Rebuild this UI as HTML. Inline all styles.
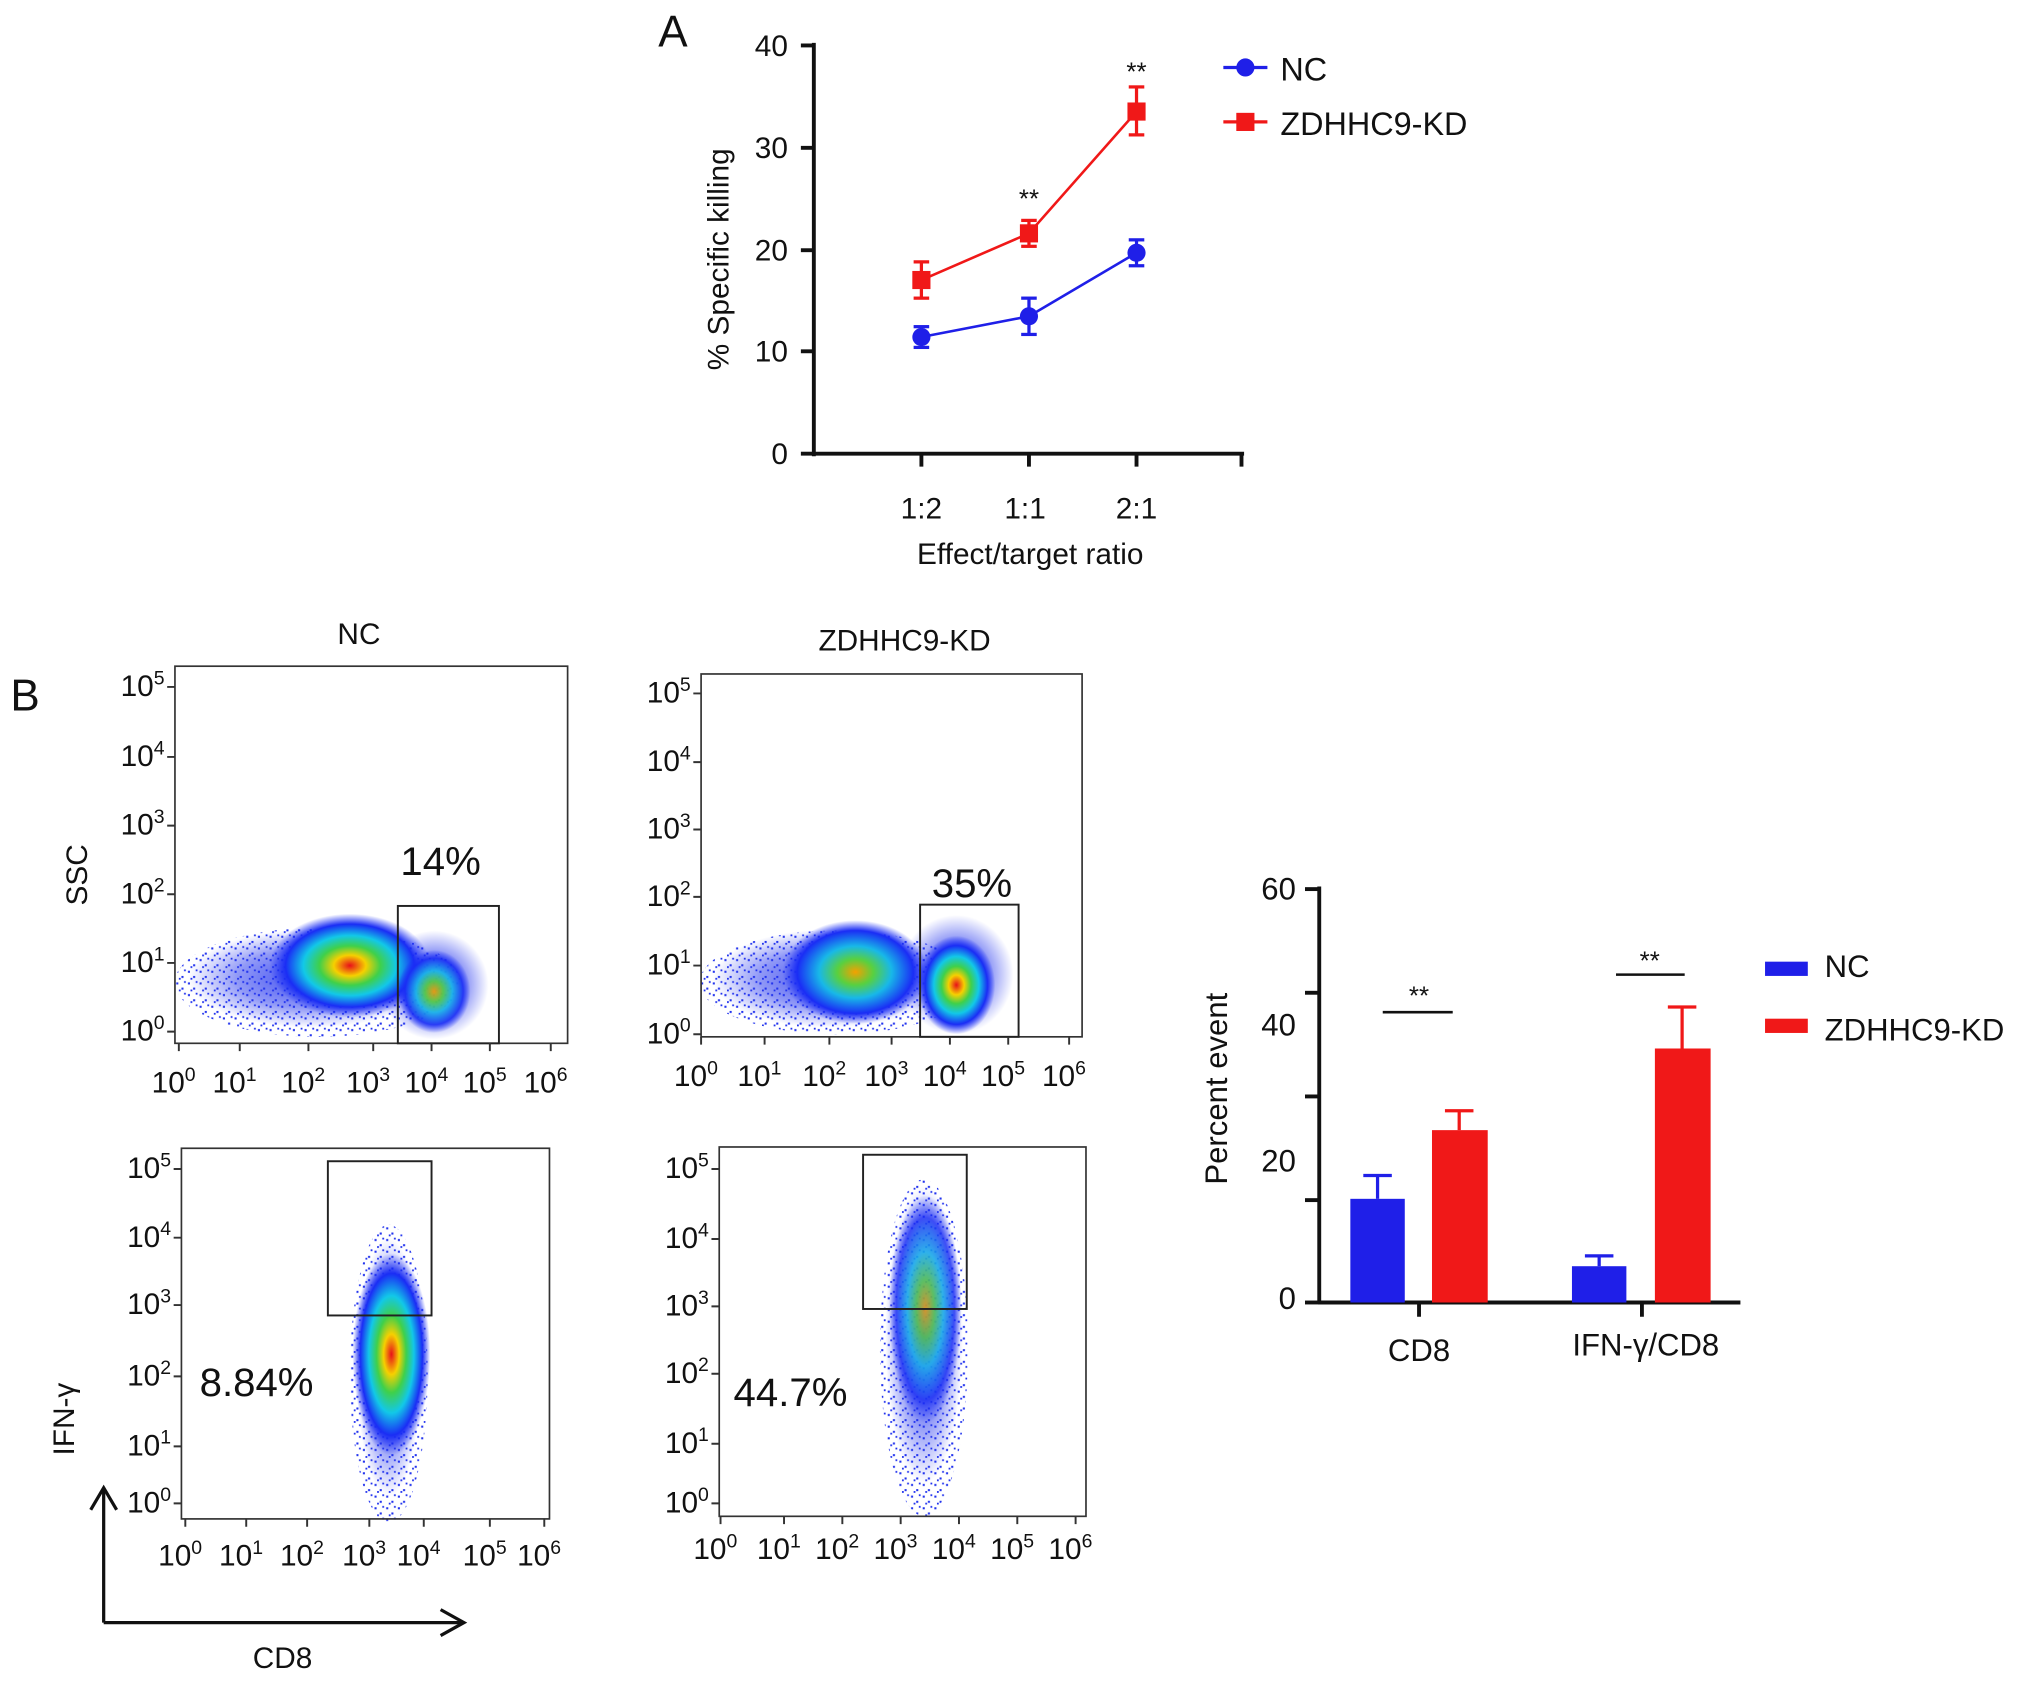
<!DOCTYPE html>
<html><head><meta charset="utf-8"><style>
html,body{margin:0;padding:0;background:#fff}
svg{display:block}
text{font-family:"Liberation Sans",Arial,sans-serif;fill:#111}
</style></head><body>
<svg width="2032" height="1681" viewBox="0 0 1568 1297" xmlns="http://www.w3.org/2000/svg">
<defs>
<radialGradient id="heat">
<stop offset="0" stop-color="#e8101a"/>
<stop offset="0.2" stop-color="#f6d000"/>
<stop offset="0.38" stop-color="#3fd04a"/>
<stop offset="0.58" stop-color="#12c8e8"/>
<stop offset="0.8" stop-color="#1a2df5"/>
<stop offset="1" stop-color="#1a2df5" stop-opacity="0"/>
</radialGradient>
<radialGradient id="heat2">
<stop offset="0" stop-color="#f4a000"/>
<stop offset="0.25" stop-color="#58d040"/>
<stop offset="0.5" stop-color="#18b8e8"/>
<stop offset="0.8" stop-color="#1a2df5"/>
<stop offset="1" stop-color="#1a2df5" stop-opacity="0"/>
</radialGradient>
<radialGradient id="haze">
<stop offset="0" stop-color="#2233ee" stop-opacity="0.9"/>
<stop offset="0.6" stop-color="#2233ee" stop-opacity="0.5"/>
<stop offset="1" stop-color="#2233ee" stop-opacity="0"/>
</radialGradient>
<pattern id="dp" width="9" height="9" patternUnits="userSpaceOnUse">
<rect x="1" y="2" width="1.6" height="1.6" fill="#2233ee"/><rect x="5" y="6" width="1.6" height="1.6" fill="#2233ee"/><rect x="7" y="1" width="1.4" height="1.4" fill="#2233ee"/><rect x="3" y="7.5" width="1.4" height="1.4" fill="#2233ee"/>
</pattern>
</defs>
<g font-size="23">
<!-- Panel A -->
<text x="508" y="36" font-size="34">A</text>
<line x1="628" y1="33" x2="628" y2="352" stroke="#111" stroke-width="3"/>
<line x1="627" y1="350" x2="960" y2="350" stroke="#111" stroke-width="3"/>
<g stroke="#111" stroke-width="3">
<line x1="618" y1="35" x2="628" y2="35"/><line x1="618" y1="114" x2="628" y2="114"/><line x1="618" y1="193" x2="628" y2="193"/><line x1="618" y1="271" x2="628" y2="271"/><line x1="618" y1="350" x2="628" y2="350"/>
<line x1="711" y1="350" x2="711" y2="360"/><line x1="794" y1="350" x2="794" y2="360"/><line x1="877" y1="350" x2="877" y2="360"/><line x1="958" y1="350" x2="958" y2="360"/>
</g>
<g text-anchor="end"><text x="608" y="43">40</text><text x="608" y="122">30</text><text x="608" y="201">20</text><text x="608" y="279">10</text><text x="608" y="358">0</text></g>
<g text-anchor="middle"><text x="711" y="400">1:2</text><text x="791" y="400">1:1</text><text x="877" y="400">2:1</text><text x="795" y="435">Effect/target ratio</text></g>
<text transform="translate(562,200) rotate(-90)" text-anchor="middle">% Specific killing</text>
<polyline points="711,260 794,244 877,195" fill="none" stroke="#1f1fe8" stroke-width="2"/>
<polyline points="711,216 794,180 877,86" fill="none" stroke="#f01818" stroke-width="2"/>
<g stroke="#1f1fe8" stroke-width="2.5"><line x1="711" y1="252" x2="711" y2="268"/><line x1="705" y1="252" x2="717" y2="252"/><line x1="705" y1="268" x2="717" y2="268"/>
<line x1="794" y1="230" x2="794" y2="258"/><line x1="788" y1="230" x2="800" y2="230"/><line x1="788" y1="258" x2="800" y2="258"/>
<line x1="877" y1="185" x2="877" y2="205"/><line x1="871" y1="185" x2="883" y2="185"/><line x1="871" y1="205" x2="883" y2="205"/></g>
<g stroke="#f01818" stroke-width="2.5"><line x1="711" y1="202" x2="711" y2="230"/><line x1="705" y1="202" x2="717" y2="202"/><line x1="705" y1="230" x2="717" y2="230"/>
<line x1="794" y1="170" x2="794" y2="190"/><line x1="788" y1="170" x2="800" y2="170"/><line x1="788" y1="190" x2="800" y2="190"/>
<line x1="877" y1="67" x2="877" y2="104"/><line x1="871" y1="67" x2="883" y2="67"/><line x1="871" y1="104" x2="883" y2="104"/></g>
<g fill="#1f1fe8"><circle cx="711" cy="260" r="7"/><circle cx="794" cy="244" r="7"/><circle cx="877" cy="195" r="7"/></g>
<g fill="#f01818"><rect x="704" y="209" width="14" height="14"/><rect x="787" y="173" width="14" height="14"/><rect x="870" y="79" width="14" height="14"/></g>
<g text-anchor="middle" font-size="20"><text x="877" y="62">**</text><text x="794" y="160">**</text></g>
<line x1="944" y1="52" x2="978" y2="52" stroke="#1f1fe8" stroke-width="2.5"/><circle cx="961" cy="52" r="7" fill="#1f1fe8"/>
<text x="988" y="62" font-size="25">NC</text>
<line x1="944" y1="94" x2="978" y2="94" stroke="#f01818" stroke-width="2.5"/><rect x="954" y="87" width="14" height="14" fill="#f01818"/>
<text x="988" y="104" font-size="25">ZDHHC9-KD</text>

<!-- Panel B -->
<text x="8" y="548" font-size="34">B</text>
<text x="277" y="497" text-anchor="middle">NC</text>
<text x="698" y="502" text-anchor="middle">ZDHHC9-KD</text>
<text transform="translate(67,675) rotate(-90)" text-anchor="middle">SSC</text>
<text transform="translate(57,1095) rotate(-90)" text-anchor="middle">IFN-γ</text>
<g stroke="#111" stroke-width="2.5" fill="none">
<line x1="80" y1="1252" x2="80" y2="1150"/><polyline points="70,1165 80,1148 90,1165"/>
<line x1="80" y1="1252" x2="356" y2="1252"/><polyline points="340,1242 358,1252 340,1262"/>
</g>
<text x="218" y="1287" text-anchor="middle">CD8</text>

<!-- density clouds -->
<ellipse cx="245" cy="758" rx="110" ry="42" fill="url(#dp)"/>
<ellipse cx="240" cy="755" rx="95" ry="38" fill="url(#haze)"/>
<ellipse cx="335" cy="760" rx="42" ry="42" fill="url(#haze)"/>
<ellipse cx="270" cy="745" rx="62" ry="40" fill="url(#heat)"/>
<ellipse cx="335" cy="765" rx="28" ry="32" fill="url(#heat2)" opacity="0.9"/>

<ellipse cx="645" cy="758" rx="105" ry="40" fill="url(#dp)"/>
<ellipse cx="640" cy="755" rx="90" ry="38" fill="url(#haze)"/>
<ellipse cx="738" cy="752" rx="44" ry="46" fill="url(#haze)"/>
<ellipse cx="660" cy="750" rx="56" ry="40" fill="url(#heat2)"/>
<ellipse cx="738" cy="760" rx="30" ry="38" fill="url(#heat)"/>

<ellipse cx="300" cy="1060" rx="30" ry="115" fill="url(#dp)"/>
<ellipse cx="300" cy="1055" rx="25" ry="100" fill="url(#haze)"/>
<ellipse cx="302" cy="1045" rx="30" ry="78" fill="url(#heat)"/>

<ellipse cx="713" cy="1040" rx="34" ry="130" fill="url(#dp)"/>
<ellipse cx="713" cy="1030" rx="30" ry="115" fill="url(#haze)"/>
<ellipse cx="714" cy="1010" rx="28" ry="88" fill="url(#heat2)" opacity="0.8"/>

<g fill="none" stroke="#333" stroke-width="1.3">
<rect x="135" y="514" width="303" height="291"/>
<rect x="541" y="520" width="294" height="280"/>
<rect x="140" y="886" width="284" height="286"/>
<rect x="555" y="885" width="283" height="285"/>
</g>
<g fill="none" stroke="#222" stroke-width="1.5">
<rect x="307" y="699" width="78" height="106"/>
<rect x="710" y="698" width="76" height="102"/>
<rect x="253" y="896" width="80" height="119"/>
<rect x="666" y="891" width="80" height="119"/>
</g>

<!-- tick marks -->
<g stroke="#333" stroke-width="1.5">
<path d="M129 530h6M129 584h6M129 637h6M129 690h6M129 743h6M129 796h6 M138 805v6M185 805v6M238 805v6M288 805v6M333 805v6M378 805v6M425 805v6"/>
<path d="M535 535h6M535 588h6M535 640h6M535 692h6M535 745h6M535 798h6 M541 800v6M590 800v6M640 800v6M688 800v6M733 800v6M778 800v6M825 800v6"/>
<path d="M134 902h6M134 955h6M134 1007h6M134 1062h6M134 1116h6M134 1160h6 M143 1172v6M190 1172v6M237 1172v6M285 1172v6M327 1172v6M378 1172v6M420 1172v6"/>
<path d="M549 902h6M549 956h6M549 1008h6M549 1060h6M549 1114h6M549 1160h6 M556 1170v6M605 1170v6M650 1170v6M695 1170v6M740 1170v6M785 1170v6M830 1170v6"/>
</g>
<!-- tick labels -->
<g text-anchor="end">
<text x="127" y="537">10<tspan font-size="15" dy="-9">5</tspan></text>
<text x="127" y="591">10<tspan font-size="15" dy="-9">4</tspan></text>
<text x="127" y="644">10<tspan font-size="15" dy="-9">3</tspan></text>
<text x="127" y="697">10<tspan font-size="15" dy="-9">2</tspan></text>
<text x="127" y="750">10<tspan font-size="15" dy="-9">1</tspan></text>
<text x="127" y="803">10<tspan font-size="15" dy="-9">0</tspan></text>
<text x="533" y="542">10<tspan font-size="15" dy="-9">5</tspan></text>
<text x="533" y="595">10<tspan font-size="15" dy="-9">4</tspan></text>
<text x="533" y="647">10<tspan font-size="15" dy="-9">3</tspan></text>
<text x="533" y="699">10<tspan font-size="15" dy="-9">2</tspan></text>
<text x="533" y="752">10<tspan font-size="15" dy="-9">1</tspan></text>
<text x="533" y="805">10<tspan font-size="15" dy="-9">0</tspan></text>
<text x="132" y="909">10<tspan font-size="15" dy="-9">5</tspan></text>
<text x="132" y="962">10<tspan font-size="15" dy="-9">4</tspan></text>
<text x="132" y="1014">10<tspan font-size="15" dy="-9">3</tspan></text>
<text x="132" y="1069">10<tspan font-size="15" dy="-9">2</tspan></text>
<text x="132" y="1123">10<tspan font-size="15" dy="-9">1</tspan></text>
<text x="132" y="1167">10<tspan font-size="15" dy="-9">0</tspan></text>
<text x="547" y="909">10<tspan font-size="15" dy="-9">5</tspan></text>
<text x="547" y="963">10<tspan font-size="15" dy="-9">4</tspan></text>
<text x="547" y="1015">10<tspan font-size="15" dy="-9">3</tspan></text>
<text x="547" y="1067">10<tspan font-size="15" dy="-9">2</tspan></text>
<text x="547" y="1121">10<tspan font-size="15" dy="-9">1</tspan></text>
<text x="547" y="1167">10<tspan font-size="15" dy="-9">0</tspan></text>
</g>
<g text-anchor="middle">
<text x="134" y="843">10<tspan font-size="15" dy="-9">0</tspan></text>
<text x="181" y="843">10<tspan font-size="15" dy="-9">1</tspan></text>
<text x="234" y="843">10<tspan font-size="15" dy="-9">2</tspan></text>
<text x="284" y="843">10<tspan font-size="15" dy="-9">3</tspan></text>
<text x="329" y="843">10<tspan font-size="15" dy="-9">4</tspan></text>
<text x="374" y="843">10<tspan font-size="15" dy="-9">5</tspan></text>
<text x="421" y="843">10<tspan font-size="15" dy="-9">6</tspan></text>
<text x="537" y="838">10<tspan font-size="15" dy="-9">0</tspan></text>
<text x="586" y="838">10<tspan font-size="15" dy="-9">1</tspan></text>
<text x="636" y="838">10<tspan font-size="15" dy="-9">2</tspan></text>
<text x="684" y="838">10<tspan font-size="15" dy="-9">3</tspan></text>
<text x="729" y="838">10<tspan font-size="15" dy="-9">4</tspan></text>
<text x="774" y="838">10<tspan font-size="15" dy="-9">5</tspan></text>
<text x="821" y="838">10<tspan font-size="15" dy="-9">6</tspan></text>
<text x="139" y="1208">10<tspan font-size="15" dy="-9">0</tspan></text>
<text x="186" y="1208">10<tspan font-size="15" dy="-9">1</tspan></text>
<text x="233" y="1208">10<tspan font-size="15" dy="-9">2</tspan></text>
<text x="281" y="1208">10<tspan font-size="15" dy="-9">3</tspan></text>
<text x="323" y="1208">10<tspan font-size="15" dy="-9">4</tspan></text>
<text x="374" y="1208">10<tspan font-size="15" dy="-9">5</tspan></text>
<text x="416" y="1208">10<tspan font-size="15" dy="-9">6</tspan></text>
<text x="552" y="1203">10<tspan font-size="15" dy="-9">0</tspan></text>
<text x="601" y="1203">10<tspan font-size="15" dy="-9">1</tspan></text>
<text x="646" y="1203">10<tspan font-size="15" dy="-9">2</tspan></text>
<text x="691" y="1203">10<tspan font-size="15" dy="-9">3</tspan></text>
<text x="736" y="1203">10<tspan font-size="15" dy="-9">4</tspan></text>
<text x="781" y="1203">10<tspan font-size="15" dy="-9">5</tspan></text>
<text x="826" y="1203">10<tspan font-size="15" dy="-9">6</tspan></text>
</g>
<g font-size="31" text-anchor="middle"><text x="340" y="675">14%</text><text x="750" y="692">35%</text><text x="198" y="1077">8.84%</text><text x="610" y="1085">44.7%</text></g>

<!-- bar chart -->
<line x1="1018" y1="684" x2="1018" y2="1006" stroke="#111" stroke-width="3"/>
<line x1="1017" y1="1005" x2="1343" y2="1005" stroke="#111" stroke-width="3"/>
<g stroke="#111" stroke-width="3"><line x1="1007" y1="686" x2="1018" y2="686"/><line x1="1007" y1="766" x2="1018" y2="766"/><line x1="1007" y1="846" x2="1018" y2="846"/><line x1="1007" y1="926" x2="1018" y2="926"/><line x1="1007" y1="1005" x2="1018" y2="1005"/>
<line x1="1095" y1="1005" x2="1095" y2="1016"/><line x1="1267" y1="1005" x2="1267" y2="1016"/></g>
<g text-anchor="end" font-size="24"><text x="1000" y="694">60</text><text x="1000" y="799">40</text><text x="1000" y="904">20</text><text x="1000" y="1010">0</text></g>
<text transform="translate(947,840) rotate(-90)" text-anchor="middle" font-size="24">Percent event</text>
<g fill="#1f1fe8"><rect x="1042" y="925" width="42" height="80"/><rect x="1213" y="977" width="42" height="28"/></g>
<g fill="#f01818"><rect x="1105" y="872" width="43" height="133"/><rect x="1277" y="809" width="43" height="196"/></g>
<g stroke="#1f1fe8" stroke-width="2.5"><line x1="1063" y1="907" x2="1063" y2="925"/><line x1="1052" y1="907" x2="1074" y2="907"/><line x1="1234" y1="969" x2="1234" y2="977"/><line x1="1223" y1="969" x2="1245" y2="969"/></g>
<g stroke="#f01818" stroke-width="2.5"><line x1="1126" y1="857" x2="1126" y2="872"/><line x1="1115" y1="857" x2="1137" y2="857"/><line x1="1298" y1="777" x2="1298" y2="809"/><line x1="1287" y1="777" x2="1309" y2="777"/></g>
<g stroke="#111" stroke-width="2"><line x1="1067" y1="781" x2="1121" y2="781"/><line x1="1247" y1="752" x2="1300" y2="752"/></g>
<g text-anchor="middle" font-size="20"><text x="1095" y="775">**</text><text x="1273" y="748">**</text></g>
<g text-anchor="middle" font-size="24"><text x="1095" y="1050">CD8</text><text x="1270" y="1046">IFN-γ/CD8</text></g>
<rect x="1362" y="742" width="33" height="11" fill="#1f1fe8"/><text x="1408" y="754" font-size="24">NC</text>
<rect x="1362" y="786" width="33" height="11" fill="#f01818"/><text x="1408" y="803" font-size="24">ZDHHC9-KD</text>
</g>
</svg>
</body></html>
